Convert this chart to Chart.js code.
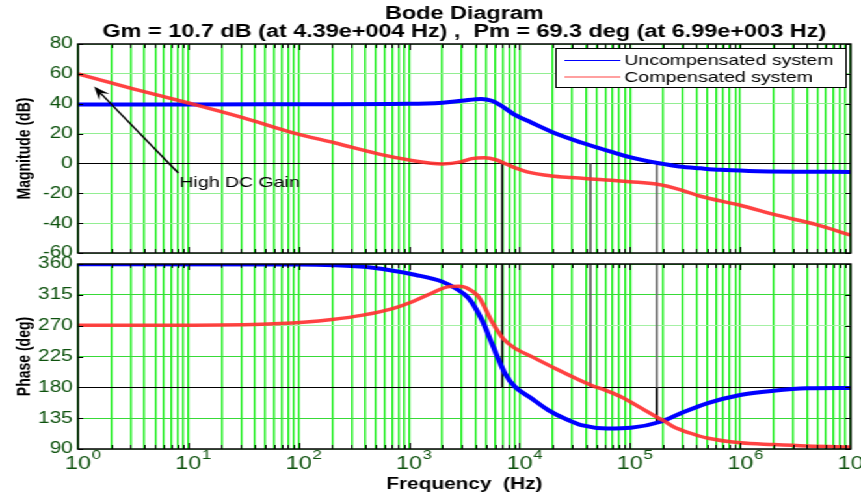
<!DOCTYPE html>
<html><head><meta charset="utf-8">
<script src="https://cdn.jsdelivr.net/npm/chart.js@4.4.1/dist/chart.umd.min.js"></script>
<style>
html,body{margin:0;padding:0;background:#fff;overflow:hidden;width:861px;height:497px;}
#wrap{position:absolute;left:0;top:0;width:662px;height:497px;transform:scaleX(1.3006);transform-origin:0 0;}
#c1{position:absolute;left:0;top:0;}
#c2{position:absolute;left:0;top:254px;}
</style></head><body>
<div id="wrap"><canvas id="c1" width="662" height="262"></canvas><canvas id="c2" width="662" height="243"></canvas></div>
<script>
// ---------- text ----------
const titleLines = ['Bode Diagram', 'Gm = 10.7 dB (at 4.39e+004 Hz) ,  Pm = 69.3 deg (at 6.99e+003 Hz)'];
const seriesNames = ['Uncompensated system', 'Compensated system'];
const magAxisTitle = 'Magnitude (dB)';
const phaseAxisTitle = 'Phase (deg)';
const freqAxisTitle = 'Frequency  (Hz)';
const annotationText = 'High DC Gain';

// ---------- ticks ----------
const magTicks = [-60, -40, -20, 0, 20, 40, 60, 80];
const phaseTicks = [90, 135, 180, 225, 270, 315, 360];
const xTickBase = '10';
const xTickExponents = ['0', '1', '2', '3', '4', '5', '6', '7'];

// ---------- series: uncompensated magnitude ----------
const uncompMagFreq = [1, 10, 100, 1000, 2000, 3000, 4500, 5600, 6900, 9100, 12900, 21000, 36300, 72000, 100000, 145000, 200000, 280000, 440000, 660000, 1200000, 3200000, 10000000];
const uncompMagDb   = [39.5, 39.5, 39.6, 39.9, 40.7, 42.0, 43.2, 42.0, 38.5, 32.5, 27.3, 20.2, 14.0, 7.2, 4.2, 1.5, -0.3, -2.0, -3.3, -4.3, -5.0, -5.5, -5.7];

// ---------- series: compensated magnitude ----------
const compMagFreq = [1, 3.16, 10, 31.6, 89, 214, 575, 1000, 2000, 3000, 3700, 4800, 6200, 7200, 8900, 12600, 19500, 29500, 44700, 67600, 100000, 178000, 288000, 437000, 1000000, 2100000, 4900000, 10000000];
const compMagDb   = [60, 50, 40.5, 30.5, 20.5, 13.7, 5.7, 2.3, -0.3, 1.2, 3.2, 3.8, 2.3, 0.3, -2.6, -6.2, -8.4, -9.5, -10.4, -11.2, -12.2, -14.0, -17.7, -22, -28, -34.5, -41, -48];

// ---------- series: uncompensated phase ----------
const uncompPhaseFreq = [1, 100, 214, 470, 1150, 2000, 2630, 3470, 4570, 5620, 7400, 9100, 12900, 18200, 27500, 36300, 63000, 102000, 190000, 288000, 500000, 1000000, 2000000, 4000000, 10000000];
const uncompPhaseDeg  = [359.5, 359.3, 358, 354.6, 344, 334.2, 324.5, 309.9, 278.2, 244, 200.3, 180.8, 163.8, 146.8, 132.2, 124.9, 120, 121, 129.8, 142, 156.6, 168.8, 175, 178.5, 179];

// ---------- series: compensated phase ----------
const compPhaseFreq = [1, 31.6, 68, 110, 200, 380, 710, 1070, 1580, 2290, 2820, 3300, 4270, 5620, 7080, 9100, 12900, 20900, 44700, 63000, 83000, 126000, 178000, 204000, 251000, 355000, 500000, 1000000, 2000000, 4000000, 10000000];
const compPhaseDeg  = [270.5, 271.5, 273, 275, 279, 285.4, 295, 305, 317, 327, 327.5, 325.5, 312, 276, 251.5, 237, 224.8, 207.8, 183, 174.5, 166.4, 150, 136, 131, 122, 113, 106, 99, 96.5, 94.5, 93];

// ---------- margin marker lines ----------
const marginFreqs = [6990, 43900, 175000];
const magMarginTop = [0, 0, 0];
const magMarginBottom = [-60, -60, -60];
const phaseMarginTop = [360, 360, 360];
const phaseMarginBottom = [180, 180, 180];
const phaseMarginExtraFreq = [175000];
const phaseMarginExtraFrom = [180];
const phaseMarginExtraTo = [129];
const marginColors = ['#000000', '#5a5a5a', '#6e6e6e'];

// ---------- annotation (data space) ----------
const arrowTailFreq = 8.1, arrowTailDb = -6.4;
const arrowTipFreq = 1.4, arrowTipDb = 51.5;
const annotationFreq = 8.3, annotationDb = -13;

// ---------- styling ----------
const FONT = '"Liberation Sans", Arial, sans-serif';
const BLUE = '#0000ff';
const RED = 'rgba(255,45,45,0.9)';
const LABEL_GREEN = '#0e520e';
const VGRID = '#14ee14';

const pts = (xs, ys) => xs.map((x, i) => ({ x, y: ys[i] }));
const gridFreqs = [];
for (let d = 0; d < 7; d++) for (let m = 1; m <= 9; m++) gridFreqs.push(m * Math.pow(10, d));
gridFreqs.push(1e7);

function curve(label, xs, ys, color, width, order) {
  return { label, data: pts(xs, ys), borderColor: color, backgroundColor: color, borderWidth: width,
    pointRadius: 0, cubicInterpolationMode: 'monotone', order, showInLegend: true };
}
function vline(f, y0, y1, color, order) {
  return { data: [{ x: f, y: y0 }, { x: f, y: y1 }], borderColor: color, borderWidth: 1, pointRadius: 0, order, showInLegend: false };
}

const frameTicks = {
  id: 'frameTicks',
  afterDraw(chart) {
    const { ctx, chartArea: a } = chart;
    const xs = chart.scales.x, ys = chart.scales.y;
    ctx.save();
    ctx.strokeStyle = '#000';
    ctx.lineWidth = 1;
    ctx.beginPath();
    gridFreqs.forEach(v => {
      if (v <= 1 || v >= 1e7) return;
      const x = Math.round(xs.getPixelForValue(v)) + 0.5;
      const major = Math.abs(Math.log10(v) - Math.round(Math.log10(v))) < 1e-9;
      const len = major ? 6 : 4;
      ctx.moveTo(x, a.top); ctx.lineTo(x, a.top + len);
      ctx.moveTo(x, a.bottom); ctx.lineTo(x, a.bottom - len);
    });
    ys.ticks.forEach(t => {
      const y = Math.round(ys.getPixelForValue(t.value)) + 0.5;
      ctx.moveTo(a.left, y); ctx.lineTo(a.left + 4, y);
      ctx.moveTo(a.right, y); ctx.lineTo(a.right - 4, y);
    });
    ctx.stroke();
    ctx.lineWidth = 1.5;
    ctx.strokeRect(a.left, a.top, a.right - a.left, a.bottom - a.top);
    ctx.restore();
  }
};

const legendBox = {
  id: 'legendBox',
  afterDraw(chart) {
    const ctx = chart.ctx;
    const items = chart.data.datasets.filter(d => d.showInLegend)
      .sort((p, q) => seriesNames.indexOf(p.label) - seriesNames.indexOf(q.label));
    const bx = 427, by = 48, bw = 223, bh = 39;
    ctx.save();
    ctx.fillStyle = '#fff';
    ctx.fillRect(bx, by, bw, bh);
    ctx.strokeStyle = '#000';
    ctx.lineWidth = 1;
    ctx.strokeRect(bx + 0.5, by + 0.5, bw, bh);
    ctx.font = '15px ' + FONT;
    ctx.textBaseline = 'middle';
    items.forEach((d, i) => {
      const y = by + 12 + i * 16.5;
      ctx.strokeStyle = d.borderColor;
      ctx.lineWidth = 1;
      ctx.beginPath(); ctx.moveTo(bx + 7, y + 0.5); ctx.lineTo(bx + 50, y + 0.5); ctx.stroke();
      ctx.fillStyle = '#000';
      ctx.fillText(d.label, bx + 53, y + 1);
    });
    ctx.restore();
  }
};

const arrowNote = {
  id: 'arrowNote',
  afterDatasetsDraw(chart) {
    const { ctx } = chart;
    const xs = chart.scales.x, ys = chart.scales.y;
    const x0 = xs.getPixelForValue(arrowTailFreq), y0 = ys.getPixelForValue(arrowTailDb);
    const x1 = xs.getPixelForValue(arrowTipFreq), y1 = ys.getPixelForValue(arrowTipDb);
    const ang = Math.atan2(y1 - y0, x1 - x0);
    ctx.save();
    ctx.strokeStyle = '#000'; ctx.fillStyle = '#000'; ctx.lineWidth = 1.5;
    ctx.beginPath(); ctx.moveTo(x0, y0); ctx.lineTo(x1 - 6 * Math.cos(ang), y1 - 6 * Math.sin(ang)); ctx.stroke();
    const L = 13, W = 5;
    ctx.beginPath();
    ctx.moveTo(x1, y1);
    ctx.lineTo(x1 - L * Math.cos(ang) + W * Math.sin(ang), y1 - L * Math.sin(ang) - W * Math.cos(ang));
    ctx.lineTo(x1 - 0.6 * L * Math.cos(ang), y1 - 0.6 * L * Math.sin(ang));
    ctx.lineTo(x1 - L * Math.cos(ang) - W * Math.sin(ang), y1 - L * Math.sin(ang) + W * Math.cos(ang));
    ctx.closePath(); ctx.fill();
    ctx.font = '15px ' + FONT;
    ctx.textBaseline = 'middle'; ctx.textAlign = 'left';
    ctx.fillText(annotationText, xs.getPixelForValue(annotationFreq), ys.getPixelForValue(annotationDb));
    ctx.restore();
  }
};

const expLabels = {
  id: 'expLabels',
  afterDraw(chart) {
    const { ctx, chartArea: a } = chart;
    const xs = chart.scales.x;
    ctx.save();
    ctx.fillStyle = LABEL_GREEN;
    ctx.textBaseline = 'middle';
    xTickExponents.forEach(e => {
      const x = xs.getPixelForValue(Math.pow(10, Number(e)));
      ctx.font = '18px ' + FONT;
      ctx.textAlign = 'center';
      ctx.fillText(xTickBase, x, a.bottom + 15);
      const w = ctx.measureText(xTickBase).width;
      ctx.font = '13px ' + FONT;
      ctx.textAlign = 'left';
      ctx.fillText(e, x + w / 2 + 0.5, a.bottom + 6);
    });
    ctx.restore();
  }
};

function xScale(showTitle) {
  return {
    type: 'logarithmic', min: 1, max: 1e7,
    afterBuildTicks: s => { s.ticks = gridFreqs.map(v => ({ value: v })); },
    afterFit: s => { s.paddingLeft = 0; s.paddingRight = 0; if (showTitle) s.height = 48; },
    ticks: { display: false, autoSkip: false },
    grid: { color: VGRID, lineWidth: 1.4, drawTicks: false },
    border: { display: false },
    title: showTitle ? { display: true, text: freqAxisTitle, color: '#000', font: { family: FONT, size: 16, weight: 'bold' }, padding: { top: 0, bottom: 3 } } : { display: false }
  };
}
function yScale(min, max, tickList, title, gridColor) {
  return {
    min, max,
    afterBuildTicks: s => { s.ticks = tickList.map(v => ({ value: v })); },
    afterFit: s => { s.width = 60; s.paddingTop = 0; s.paddingBottom = 0; },
    ticks: { color: LABEL_GREEN, font: { family: FONT, size: 16 }, padding: 4, autoSkip: false },
    grid: { color: gridColor, lineWidth: 1, drawTicks: false },
    border: { display: false },
    title: { display: true, text: title, color: '#000', font: { family: FONT, size: 14, weight: 'bold' }, padding: { top: 11, bottom: 0 } }
  };
}

const common = {
  responsive: false, animation: false, devicePixelRatio: 1, events: [],
  plugins: { legend: { display: false }, tooltip: { enabled: false } }
};

new Chart(document.getElementById('c1'), {
  type: 'line',
  data: { datasets: [
    curve(seriesNames[1], compMagFreq, compMagDb, RED, 3.5, 0),
    curve(seriesNames[0], uncompMagFreq, uncompMagDb, BLUE, 4, 1),
    ...marginFreqs.map((f, i) => vline(f, magMarginTop[i], magMarginBottom[i], marginColors[i], 2))
  ] },
  options: Object.assign({}, common, {
    layout: { padding: { left: 0, right: 8, top: 0, bottom: 9 } },
    plugins: {
      legend: { display: false }, tooltip: { enabled: false },
      title: { display: true, fullSize: false, text: titleLines, color: '#000',
        font: { family: FONT, size: 18, weight: 'bold', lineHeight: 1.0 }, padding: { top: 5, bottom: 3 } }
    },
    scales: {
      x: xScale(false),
      y: yScale(-60, 80, magTicks, magAxisTitle, c => c.tick.value === 0 ? '#000' : '#92ee92')
    }
  }),
  plugins: [frameTicks, arrowNote, legendBox]
});

new Chart(document.getElementById('c2'), {
  type: 'line',
  data: { datasets: [
    curve(seriesNames[1], compPhaseFreq, compPhaseDeg, RED, 3.5, 0),
    curve(seriesNames[0], uncompPhaseFreq, uncompPhaseDeg, BLUE, 4, 1),
    ...marginFreqs.map((f, i) => vline(f, phaseMarginTop[i], phaseMarginBottom[i], marginColors[i], 2)),
    ...phaseMarginExtraFreq.map((f, i) => vline(f, phaseMarginExtraFrom[i], phaseMarginExtraTo[i], '#000', 2))
  ] },
  options: Object.assign({}, common, {
    layout: { padding: { left: 0, right: 8, top: 10, bottom: 0 } },
    scales: {
      x: xScale(true),
      y: yScale(90, 360, phaseTicks, phaseAxisTitle, c => c.tick.value === 180 ? '#000' : ((c.tick.value === 270 || c.tick.value === 90) ? '#a4f0a4' : '#38da38'))
    }
  }),
  plugins: [frameTicks, expLabels]
});
</script>
</body></html>
